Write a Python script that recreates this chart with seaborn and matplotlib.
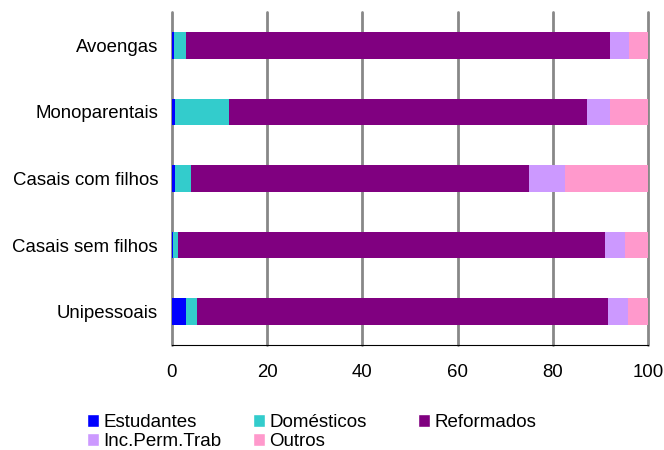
import pandas as pd
import matplotlib
matplotlib.use('Agg')
import matplotlib.pyplot as plt
import seaborn as sns
from matplotlib.patches import Patch

familias = ['Avoengas', 'Monoparentais', 'Casais com filhos', 'Casais sem filhos', 'Unipessoais']
estudantes = [0.4, 0.6, 0.6, 0.2, 2.9]
domesticos = [2.5, 11.3, 3.3, 1.0, 2.3]
reformados = [89.1, 75.3, 71.1, 89.8, 86.4]
inc_perm_trab = [4.0, 4.8, 7.6, 4.2, 4.2]
outros = [4.0, 8.0, 17.4, 4.8, 4.2]

series = ['Estudantes', 'Domésticos', 'Reformados', 'Inc.Perm.Trab', 'Outros']
cores = ['#0000FF', '#33CCCC', '#800080', '#CC99FF', '#FF99CC']

df = pd.DataFrame({'familia': familias, 'Estudantes': estudantes, 'Domésticos': domesticos,
                   'Reformados': reformados, 'Inc.Perm.Trab': inc_perm_trab, 'Outros': outros})
acum = df[series].cumsum(axis=1)

sns.set_style('white')
plt.rcParams['font.family'] = ['Liberation Sans', 'DejaVu Sans']
plt.rcParams['text.color'] = 'black'
plt.rcParams['xtick.color'] = 'black'
plt.rcParams['ytick.color'] = 'black'

fig = plt.figure(figsize=(6.64, 4.5), dpi=100)
ax = fig.add_axes([0.259, 0.2333, 0.717, 0.74])

# barras empilhadas: desenhar do total para o primeiro segmento
for s, c in reversed(list(zip(series, cores))):
    sns.barplot(x=acum[s], y=df['familia'], color=c, width=0.4, ax=ax,
                order=familias, saturation=1, edgecolor='none', linewidth=0)

ax.set_xlim(0, 100)
ax.set_ylim(4.5, -0.5)
ax.set_xticks([0, 20, 40, 60, 80, 100])
ax.set_xlabel('')
ax.set_ylabel('')
ax.xaxis.grid(True, color='#888888', linewidth=2)
for b in ax.patches:
    b.set_zorder(2)
for l in ax.get_xgridlines():
    l.set_zorder(1)
    l.set_clip_on(False)
for sp in ['left', 'top', 'right']:
    ax.spines[sp].set_visible(False)
ax.spines['bottom'].set_color('black')
ax.spines['bottom'].set_linewidth(0.8)
ax.tick_params(axis='both', length=0, labelsize=13.4)
ax.tick_params(axis='x', pad=14)
ax.tick_params(axis='y', pad=10)

# legenda em colunas de largura fixa
colunas = [[0, 3], [1, 4], [2]]
xs = [87, 253, 418]
for col, x0 in zip(colunas, xs):
    handles = [Patch(facecolor=cores[i], label=series[i]) for i in col]
    fig.legend(handles=handles, loc='upper left', bbox_to_anchor=(x0 / 664, 1 - 414 / 450),
               frameon=False, fontsize=13.5, handlelength=0.66, handleheight=0.66,
               handletextpad=0.2, labelspacing=0.1, borderpad=0, borderaxespad=0)

fig.savefig('out.png', dpi=100)
